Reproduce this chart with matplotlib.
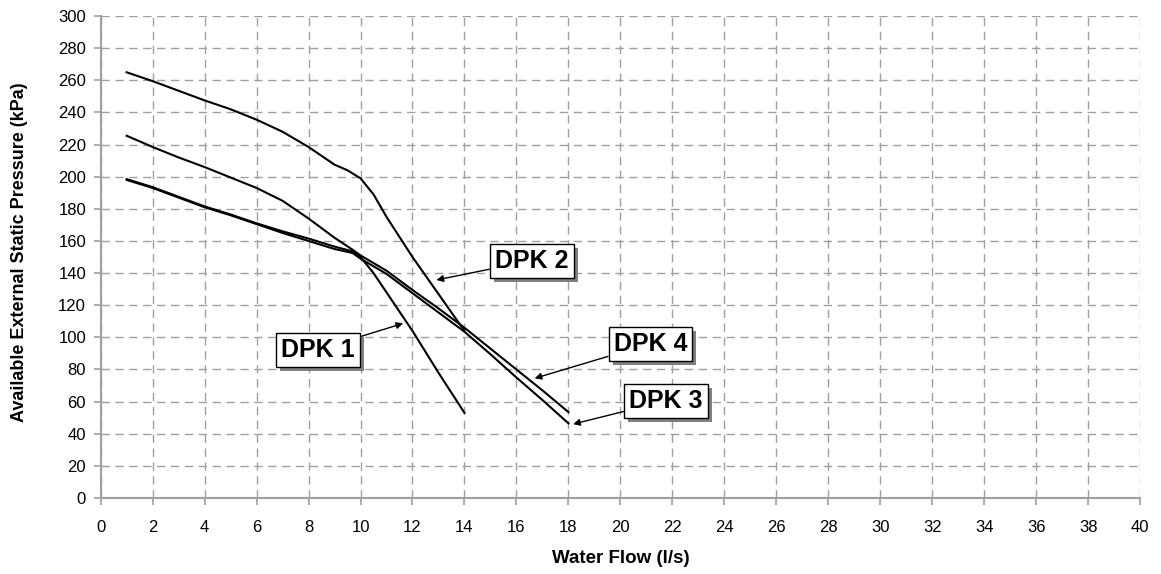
import matplotlib
matplotlib.use("Agg")
import matplotlib.pyplot as plt
import matplotlib.patheffects as pe

plt.rcParams['font.family'] = ['Liberation Sans', 'DejaVu Sans']

# pump curves
dpk1_x = [1, 2, 3, 4, 5, 6, 7, 8, 9, 9.7, 10, 10.5, 11, 12, 13, 14]
dpk1_y = [198.5, 193.5, 187.5, 181.5, 176.5, 171, 166, 161.5, 156.5, 153.5, 150, 140, 128, 104, 78, 53]

dpk2_x = [1, 2, 3, 4, 5, 6, 7, 8, 9, 9.5, 10, 10.5, 11, 12, 13, 14]
dpk2_y = [265, 259.5, 253.5, 247.5, 242, 235.5, 228, 218.5, 207.5, 204, 199, 189, 175, 150, 127, 104]

dpk3_x = [1, 2, 3, 4, 5, 6, 7, 8, 9, 9.7, 10, 11, 12, 13, 14, 15, 16, 17, 18]
dpk3_y = [198, 193, 187, 181, 176, 170.5, 165, 160, 155, 152.5, 149, 139.5, 127.5, 115.5, 103.5, 89.5, 75, 61, 46.5]

dpk4_x = [1, 2, 3, 4, 5, 6, 7, 8, 9, 9.7, 10, 11, 12, 13, 14, 15, 16, 17, 18]
dpk4_y = [225.5, 218.5, 212, 206, 199.5, 193, 185, 174, 162, 154.5, 151, 141.5, 129.5, 118, 106, 93, 80, 67, 53.5]

labels = ['DPK 1', 'DPK 2', 'DPK 3', 'DPK 4']
label_xy = [(8.36, 92.3), (16.6, 147.8), (21.75, 60.4), (21.15, 96)]
arrow_tip = [(11.64, 108.7), (12.92, 135.7), (18.18, 46), (16.7, 74.5)]

fig = plt.figure(figsize=(11.61, 5.74), dpi=100)
ax = fig.add_axes([0.0867, 0.1324, 0.8953, 0.8396])

for xs, ys in [(dpk1_x, dpk1_y), (dpk2_x, dpk2_y), (dpk3_x, dpk3_y), (dpk4_x, dpk4_y)]:
    ax.plot(xs, ys, color='black', lw=1.5, zorder=3)

ax.set_xlim(0, 40)
ax.set_ylim(0, 300)
ax.set_xticks(range(0, 41, 2))
ax.set_yticks(range(0, 301, 20))
ax.grid(True, color='#a0a0a0', ls=(0, (6, 4)), lw=1)
ax.set_axisbelow(True)
for s in ['top', 'right']:
    ax.spines[s].set_visible(False)
for s in ['left', 'bottom']:
    ax.spines[s].set_color('#a0a0a0')
    ax.spines[s].set_linewidth(1.5)
ax.tick_params(colors='#a0a0a0', length=5, width=1.2, labelcolor='black', labelsize=12)
ax.tick_params(axis='x', pad=10.5)
ax.tick_params(axis='y', pad=5.5)

ax.set_xlabel('Water Flow (l/s)', fontsize=13.5, fontweight='bold', va='center')
ax.set_ylabel('Available External Static Pressure (kPa)', fontsize=13, fontweight='bold', va='center')
ax.xaxis.set_label_coords(0.5006, -0.1245)
ax.yaxis.set_label_coords(-0.0777, 0.51)

for lab, (tx, ty), (ax_, ay) in zip(labels, label_xy, arrow_tip):
    t = ax.annotate(lab, xy=(ax_, ay), xytext=(tx, ty), ha='center', va='center',
                    fontsize=18, fontweight='bold', zorder=5,
                    bbox=dict(boxstyle='square,pad=0.2', fc='white', ec='black', lw=1),
                    arrowprops=dict(arrowstyle='-|>', color='black', lw=1, mutation_scale=10,
                                    shrinkA=0, shrinkB=0))
    t.get_bbox_patch().set_path_effects([
        pe.SimplePatchShadow(offset=(3, -3), shadow_rgbFace='#808080', alpha=1),
        pe.Normal()])

fig.savefig('out.png', dpi=100)
